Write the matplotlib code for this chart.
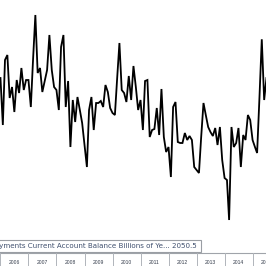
import pandas as pd
import matplotlib
matplotlib.use("Agg")
import matplotlib.pyplot as plt
from matplotlib.patches import Rectangle
import matplotlib.transforms as mtransforms

# Japan current account balance, billions of yen, monthly from Jan 2006
start = "2006-01-01"
balance = [
    1508, 850, 1760, 1830, 1228, 1382, 1032, 1480, 1298, 1648, 1340, 1480,
    1480, 1102, 1746, 2390, 1578, 1648, 1312, 1466, 1620, 2110, 1620, 1382,
    1340, 1060, 1942, 2110, 1102, 1466, 542, 1200, 892, 1242, 1060, 878,
    570, 262, 1060, 1242, 780, 1158, 1158, 1186, 1102, 1410, 1312, 1088,
    1018, 990, 1480, 1998, 1340, 1298, 1172, 1536, 1200, 1676, 1382, 1060,
    1200, 780, 1466, 1480, 682, 780, 794, 1088, 710, 1354, 682, 472,
    542, 122, 1102, 1172, 612, 598, 598, 738, 640, 696, 640, 262,
    220, 178, 668, 1158, 990, 822, 752, 696, 808, 570, 822, 360,
    108, 80, -480, 822, 542, 598, 808, 262, 710, 640, 990, 920,
    640, 542, 458, 1242, 2050, 1200, 1508,
]
years = list(range(2006, 2016))
tooltip = "Japan Balance of Payments Current Account Balance Billions of Ye... 2050.5"

dates = pd.date_range(start, periods=len(balance), freq="MS")

fig = plt.figure(figsize=(2.66, 2.66), dpi=100)
ax = fig.add_axes([0, 0, 1, 1])
ax.plot(dates, balance, color="black", lw=1.3, solid_joinstyle="miter")

x0 = pd.Timestamp("2005-12-26")
ax.set_xlim(x0, x0 + pd.Timedelta(days=3468))
ax.set_ylim(-1124, 2600)
ax.axis("off")

# bottom year strip
trans = mtransforms.blended_transform_factory(ax.transData, ax.transAxes)
ax.axhline(-942, color="#a0a4aa", lw=0.8)
for y in years:
    xs = pd.Timestamp(f"{y}-01-01")
    ax.plot([xs, xs], [0, 0.049], transform=trans, color="#b0b4ba", lw=0.7,
            clip_on=False)
    ax.text(pd.Timestamp(f"{y}-07-01"), 0.014, str(y), transform=trans,
            ha="center", va="center", fontsize=3.6, color="#333b4a",
            family="Liberation Sans")

# tooltip box
box = Rectangle((-0.05, 1 - 252 / 266), 0.05 + 201 / 266, 12 / 266,
                transform=fig.transFigure, facecolor="white",
                edgecolor="#9a9ea4", lw=0.8)
fig.patches.append(box)
fig.text(197 / 266, 1 - 246 / 266, tooltip, ha="right", va="center",
         fontsize=5.15, color="#3f4f6e")

fig.savefig("out.png", dpi=100)
